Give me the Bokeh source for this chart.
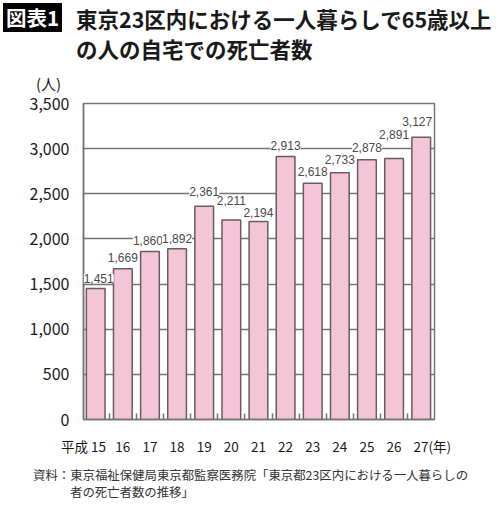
from bokeh.plotting import figure
from bokeh.layouts import column
from bokeh.models import (ColumnDataSource, Range1d, FixedTicker, NumeralTickFormatter,
                          LabelSet, Div)
from bokeh.core.properties import value
from bokeh.embed import file_html
from bokeh.resources import INLINE

# 平成15年〜27年
years = ["15", "16", "17", "18", "19", "20", "21", "22", "23", "24", "25", "26", "27"]
deaths = [1451, 1669, 1860, 1892, 2361, 2211, 2194, 2913, 2618, 2733, 2878, 2891, 3127]
y_ticks = [0, 500, 1000, 1500, 2000, 2500, 3000, 3500]

title_lines = ["東京23区内における一人暮らしで65歳以上", "の人の自宅での死亡者数"]
source_lines = ["資料：東京福祉保健局東京都監察医務院「東京都23区内における一人暮らしの",
                "者の死亡者数の推移」"]

# value labels were hand placed in the original: lift above bar / sideways nudge (px)
label_lift = [10, 11, 11, 10, 15, 19, 9, 11, 12, 13, 12, 24, 16]
label_nudge = [3, 0, -2, 0, 0, 0, 0, 0, 0, 0, 0, 0, -4]

JP = "Noto Sans CJK JP"
GRID = "#757575"
INK = "#1a1a1a"


def span(left, top, txt, size, lh, extra=""):
    return (f'<span style="position:absolute;left:{left}px;top:{top}px;font-size:{size}px;'
            f'line-height:{lh}px;white-space:nowrap;{extra}">{txt}</span>')


# ---- heading
header = Div(width=500, height=92, margin=0, text=(
    f'<div style="position:relative;width:500px;height:92px;font-family:\'{JP}\';color:{INK}">'
    + span(3, 3, "図表1", 20.5, 29, "width:59px;text-align:center;background:#000;"
           "color:#fff;font-weight:bold")
    + span(76, 4, title_lines[0], 21.5, 30, "font-weight:bold")
    + span(76, 34, title_lines[1], 21.5, 30, "font-weight:bold")
    + span(36, 75, "(人)", 15, 18)
    + '</div>'))

# ---- chart
xs = list(range(len(years)))
src = ColumnDataSource(dict(x=xs, y=deaths, label=[f"{v:,}" for v in deaths],
                            lift=label_lift, nudge=label_nudge))

p = figure(width=500, height=366, output_backend="svg", toolbar_location=None,
           x_range=Range1d(-0.45, len(years) - 0.51), y_range=Range1d(0, 3500),
           min_border_left=83, min_border_right=66, min_border_top=11, min_border_bottom=32)
p.outline_line_color = GRID
p.outline_line_width = 1.5

p.vbar(x="x", top="y", width=0.69, source=src, fill_color="#f3c5d6",
       line_color="#6a5a61", line_width=1.5)

p.add_layout(LabelSet(x="x", y="y", text="label", source=src, text_align="center",
                      text_baseline="middle", x_offset="nudge", y_offset="lift",
                      text_font_size="12px", text_font=value("Liberation Sans"),
                      text_color="#4a4a4a", background_fill_color="white"))

p.xgrid.visible = False
p.ygrid.ticker = FixedTicker(ticks=y_ticks)
p.ygrid.grid_line_color = GRID
p.ygrid.grid_line_width = 1.4

p.yaxis.ticker = FixedTicker(ticks=y_ticks)
p.yaxis.formatter = NumeralTickFormatter(format="0,0")
p.yaxis.major_tick_line_color = None
p.yaxis.minor_tick_line_color = None
p.yaxis.axis_line_color = GRID
p.yaxis.axis_line_width = 1.5
p.yaxis.major_label_standoff = 8
p.yaxis.major_label_text_font = JP
p.yaxis.major_label_text_font_size = "16px"
p.yaxis.major_label_text_color = INK

# first / last tick labels carry the era and unit, nudged so the numbers stay under their bars
tick_pos = list(xs)
tick_pos[0] = -0.45
tick_pos[-1] = len(years) - 1 + 0.41
tick_text = list(years)
tick_text[0] = "平成 " + years[0]
tick_text[-1] = years[-1] + "(年)"

p.xaxis.ticker = FixedTicker(ticks=tick_pos, minor_ticks=[i + 0.5 for i in xs[:-1]])
p.xaxis.major_label_overrides = dict(zip(tick_pos, tick_text))
p.xaxis.major_tick_line_color = None
p.xaxis.minor_tick_in = 6
p.xaxis.minor_tick_out = 0
p.xaxis.minor_tick_line_color = GRID
p.xaxis.minor_tick_line_width = 1.5
p.xaxis.axis_line_color = GRID
p.xaxis.axis_line_width = 1.5
p.xaxis.major_label_standoff = 10
p.xaxis.major_label_text_font = JP
p.xaxis.major_label_text_font_size = "13.5px"
p.xaxis.major_label_text_color = INK

# ---- source note
footer = Div(width=500, height=72, margin=0, text=(
    f'<div style="position:relative;width:500px;height:72px;font-family:\'{JP}\';color:#333">'
    + span(33, 8, source_lines[0], 12.4, 18)
    + span(70, 25, source_lines[1], 12.4, 18)
    + '</div>'))

open("out.html", "w").write(file_html(column(header, p, footer, spacing=0), INLINE))
